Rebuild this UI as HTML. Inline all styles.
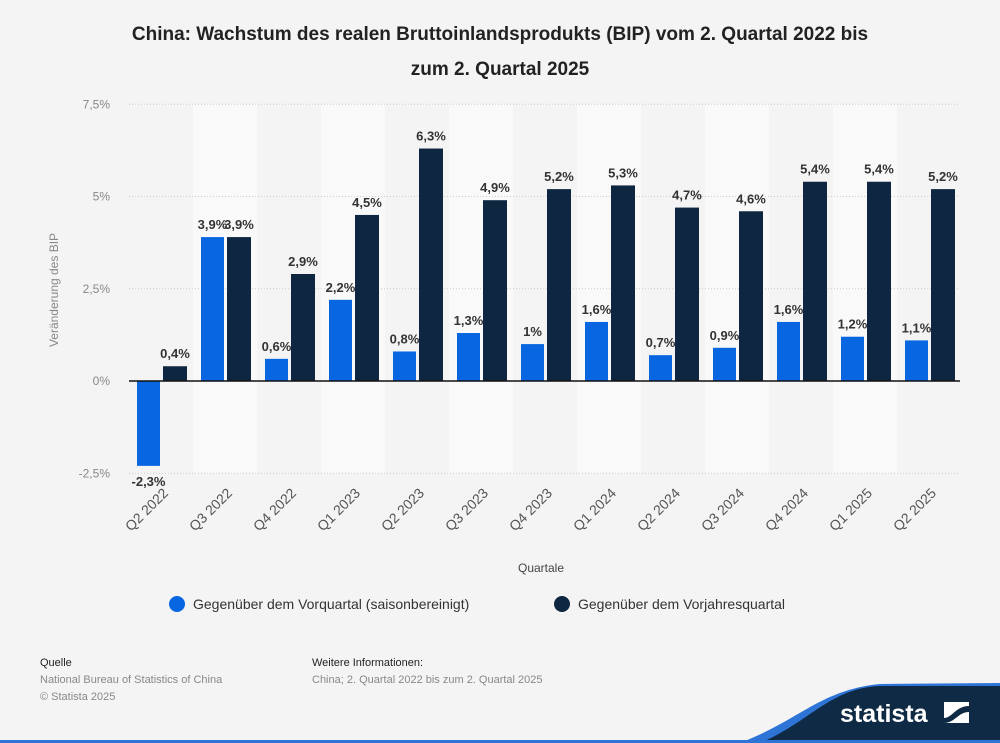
<!DOCTYPE html>
<html><head><meta charset="utf-8"><style>
body{margin:0;background:#f4f4f4;font-family:"Liberation Sans",sans-serif;}
#wrap{position:relative;width:1000px;height:743px;overflow:hidden;background:#f4f4f4}
</style></head><body>
<div id="wrap">
<svg id="chart" width="1000" height="743" style="position:absolute;left:0;top:0">
<text x="500" y="40" text-anchor="middle" font-size="19" font-weight="bold" fill="#222">China: Wachstum des realen Bruttoinlandsprodukts (BIP) vom 2. Quartal 2022 bis</text>
<text x="500" y="75" text-anchor="middle" font-size="19" font-weight="bold" fill="#222">zum 2. Quartal 2025</text>
<g id="plot"></g>
<text x="541" y="572" text-anchor="middle" font-size="12" fill="#444">Quartale</text>
<text transform="translate(58,290) rotate(-90)" text-anchor="middle" font-size="12" fill="#888">Veränderung des BIP</text>
<g><circle cx="177" cy="604" r="8" fill="#0866e1"/><text x="193" y="609" font-size="14" fill="#333">Gegenüber dem Vorquartal (saisonbereinigt)</text></g>
<g><circle cx="562" cy="604" r="8" fill="#0f2641"/><text x="578" y="609" font-size="14" fill="#333">Gegenüber dem Vorjahresquartal</text></g>
<text x="40" y="666" font-size="11" fill="#222">Quelle</text>
<text x="40" y="683" font-size="11" fill="#888">National Bureau of Statistics of China</text>
<text x="40" y="700" font-size="11" fill="#888">© Statista 2025</text>
<text x="312" y="666" font-size="11" fill="#222">Weitere Informationen:</text>
<text x="312" y="683" font-size="11" fill="#888">China; 2. Quartal 2022 bis zum 2. Quartal 2025</text>
<path d="M740,743 C800,720 820,690 880,684 L1000,683 L1000,743 Z" fill="#2d74d6"/>
<path d="M760,743 C810,722 830,688 880,686 L1000,686 L1000,743 Z" fill="#0e2a44"/>
<rect x="0" y="740" width="1000" height="3" fill="#2d74d6"/>
<text x="840" y="722" font-size="25" font-weight="bold" fill="#fff">statista</text>
<g><rect x="944" y="702" width="25" height="21" fill="#fff"/><path d="M944,718 C952,718 956,706 969,706 L969,712 C958,712 955,723 944,723Z" fill="#0e2a44"/></g>
</svg>
</div>
<script>
const categories=["Q2 2022","Q3 2022","Q4 2022","Q1 2023","Q2 2023","Q3 2023","Q4 2023","Q1 2024","Q2 2024","Q3 2024","Q4 2024","Q1 2025","Q2 2025"];
const qoq=[-2.3,3.9,0.6,2.2,0.8,1.3,1,1.6,0.7,0.9,1.6,1.2,1.1];
const yoy=[0.4,3.9,2.9,4.5,6.3,4.9,5.2,5.3,4.7,4.6,5.4,5.4,5.2];
const yTicks=[-2.5,0,2.5,5,7.5];
const yTickLabels=["-2,5%","0%","2,5%","5%","7,5%"];
const NS="http://www.w3.org/2000/svg";
const g=document.getElementById('plot');
const x0=129,cw=64,xEnd=960;
function y(v){return 381-v*36.9;}
function xc(i){return x0+i*cw;}
function mk(t,a){const e=document.createElementNS(NS,t);for(const k in a)e.setAttribute(k,a[k]);g.appendChild(e);return e;}
function fmt(v){return String(v).replace('.',',')+'%';}
categories.forEach((c,i)=>{if(i%2==1){const r=mk('rect',{x:xc(i),y:y(7.5),width:cw,height:y(-2.5)-y(7.5),fill:'#f9f9f9'});

}});
yTicks.forEach((t,i)=>{const l=mk('line',{x1:x0,x2:xEnd,y1:y(t),y2:y(t),stroke:'#ccc','stroke-dasharray':'1,2'});


const tx=mk('text',{x:110,y:y(t)+4,'text-anchor':'end','font-size':12,fill:'#888'});tx.textContent=yTickLabels[i];

});
categories.forEach((c,i)=>{
 const a=qoq[i],b=yoy[i];
 const r1=mk('rect',{x:xc(i)+8,y:Math.min(y(a),y(0)),width:23,height:Math.abs(y(a)-y(0)),fill:'#0866e1'});
 
 
 const r2=mk('rect',{x:xc(i)+34,y:Math.min(y(b),y(0)),width:24,height:Math.abs(y(b)-y(0)),fill:'#0f2641'});
 
 
 const t1=mk('text',{x:xc(i)+19.5,y:a>=0?y(a)-8:y(a)+20,'text-anchor':'middle','font-size':13,'font-weight':'bold',fill:'#333'});t1.textContent=fmt(a);
 
 
 const t2=mk('text',{x:xc(i)+46,y:y(b)-8,'text-anchor':'middle','font-size':13,'font-weight':'bold',fill:'#333'});t2.textContent=fmt(b);
 
 
 const xl=mk('text',{transform:`translate(${xc(i)+40},${494}) rotate(-45)`,'text-anchor':'end','font-size':14,fill:'#555'});xl.textContent=c;
 
 
});
const z=mk('line',{x1:x0,x2:xEnd,y1:y(0),y2:y(0),stroke:'#111','stroke-width':1.5});


</script>
</body></html>
